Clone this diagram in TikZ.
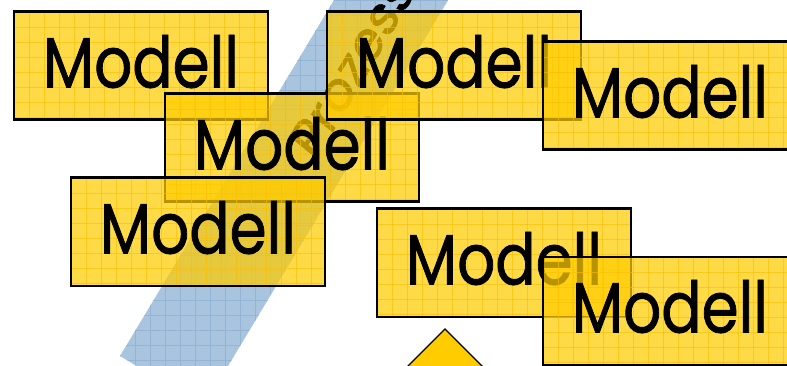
\documentclass[tikz,border=0pt]{standalone}
\usepackage{fontspec}
\setmainfont{Poppins}
\newfontfamily\modfont{Poppins}[FakeBold=1.2]
\usetikzlibrary{calc}
\definecolor{boxyellow}{RGB}{255,204,0}
\definecolor{gridyellow}{RGB}{250,190,0}
\definecolor{bandblue}{RGB}{168,196,222}
\definecolor{bandgrid}{RGB}{148,180,212}
\tikzset{
  gridline/.style={draw=gridyellow, line width=0.7pt, draw opacity=0.6},
  mbox/.style={draw=black, line width=2.8pt, fill=boxyellow, fill opacity=0.72,
    minimum width=254pt, minimum height=108pt, inner sep=0pt, anchor=north west,
    path picture={
      \foreach \k in {1,...,17}{
        \draw[gridline] ([xshift=\k*15pt]path picture bounding box.north west) -- ([xshift=\k*15pt]path picture bounding box.south west);}
      \foreach \k in {1,...,7}{
        \draw[gridline] ([yshift=-\k*15pt]path picture bounding box.north west) -- ([yshift=-\k*15pt]path picture bounding box.north east);}
    }},
  mtext/.style={anchor=base, inner sep=0pt, xscale=0.84, font=\modfont\fontsize{71}{71}\selectfont, text=black},
  proztext/.style={anchor=center, inner sep=0pt, xscale=0.85, font=\modfont\fontsize{56}{56}\selectfont, text=black},
  band/.style={fill=bandblue},
  diam/.style={draw=black, line width=1.3pt, fill=boxyellow}
}
\newcommand\modelbox[3]{%
  \node[mbox] (#1) at (#2,#3) {};
  \node[mtext] (#1t) at ($(#1.north)+(0,77)$) {Modell};
}
\begin{document}
\begin{tikzpicture}[x=1pt,y=-1pt]
\useasboundingbox (0,0) rectangle (787,366);
\clip (0,0) rectangle (787,366);
% band
\coordinate (b1) at (120,356);
\coordinate (b2) at (204,406);
\coordinate (b3) at (462,-23);
\coordinate (b4) at (378,-73);
\fill[band] (b1) -- (b2) -- (b3) -- (b4) -- cycle;
\begin{scope}
  \clip (b1) -- (b2) -- (b3) -- (b4) -- cycle;
  \foreach \k in {0,15,...,480}{\draw[bandgrid, line width=0.6pt] (\k,0) -- (\k,366);}
  \foreach \k in {0,15,...,370}{\draw[bandgrid, line width=0.6pt] (0,\k) -- (787,\k);}
\end{scope}
\node[proztext, rotate=55] (proz) at (352,66) {Prozess};
% boxes
\modelbox{a}{12.5}{10.5}
\modelbox{b}{163.5}{92.5}
\modelbox{c}{69.5}{176.5}
\modelbox{d}{325.5}{10.5}
\modelbox{e}{541.5}{40.5}
\modelbox{f}{375.5}{207.5}
\modelbox{g}{541.5}{255.5}
% diamond
\coordinate (d1) at (445,329);
\coordinate (d2) at (515,399);
\coordinate (d3) at (445,469);
\coordinate (d4) at (375,399);
\draw[diam] (d1) -- (d2) -- (d3) -- (d4) -- cycle;
\end{tikzpicture}
\end{document}
